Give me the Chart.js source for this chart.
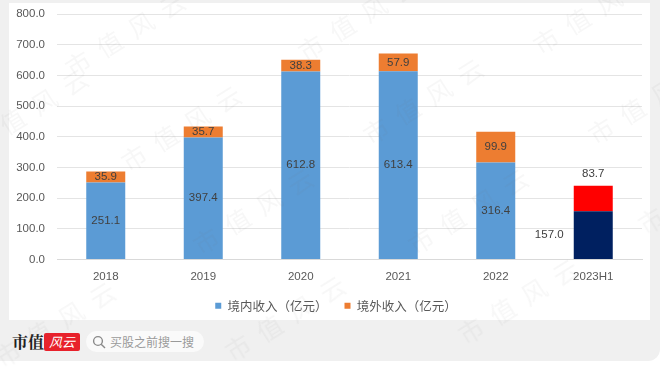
<!DOCTYPE html>
<html><head><meta charset="utf-8">
<style>
html,body{margin:0;padding:0;background:#fff;width:660px;height:368px;overflow:hidden;font-family:"Noto Sans CJK SC",sans-serif}
#bg{position:absolute;left:0;top:0;width:660px;height:361px;background:#f0f0f0;border-bottom-right-radius:12px}
#panel{position:absolute;left:9px;top:3px;width:641px;height:317px;background:#fff}
#cv{position:absolute;left:0;top:0}
#logo{position:absolute;left:12px;top:331px;font:bold 16px/22px "Noto Serif CJK SC","Noto Sans CJK SC",serif;color:#222}
#mark{position:absolute;left:44px;top:333px;width:36px;height:18px;background:#e8212b;color:#fff;font:italic 13px/18px "Noto Sans CJK SC";text-align:center;border-radius:2px}
#search{position:absolute;left:86px;top:331px;width:118px;height:21px;border-radius:11px;background:#fafafa;color:#9a9a9a;font:12px/21px "Noto Sans CJK SC"}
#search svg{position:absolute;left:6px;top:4px}
#search span{position:absolute;left:24px;top:0;white-space:nowrap}
.wm{position:absolute;color:rgba(120,120,120,.06);font:25px/30px "Noto Sans CJK SC";letter-spacing:12px;white-space:nowrap;transform:rotate(-32deg);transform-origin:12px 50%;pointer-events:none}
</style></head><body>
<div id="bg"></div><div id="panel"></div>
<canvas id="cv" width="660" height="322"></canvas>
<div id="logo">市值</div><div id="mark">风云</div>
<div id="search"><svg width="14" height="14" viewBox="0 0 14 14"><circle cx="6" cy="6" r="4.4" fill="none" stroke="#8a8a8a" stroke-width="1.4"/><line x1="9.2" y1="9.2" x2="13" y2="13" stroke="#8a8a8a" stroke-width="1.4"/></svg><span>买股之前搜一搜</span></div>
<div id="wms"></div>
<script src="https://cdn.jsdelivr.net/npm/chart.js@4"></script>
<script>
const categories=["2018","2019","2020","2021","2022","2023H1"];
const domestic=[251.1,397.4,612.8,613.4,316.4,157.0];
const overseas=[35.9,35.7,38.3,57.9,99.9,83.7];
const domesticColors=["#5b9bd5","#5b9bd5","#5b9bd5","#5b9bd5","#5b9bd5","#002060"];
const overseasColors=["#ed7d31","#ed7d31","#ed7d31","#ed7d31","#ed7d31","#ff0000"];
const watermarks=[[77,63],[133,157],[310,47],[205,240],[375,130],[420,240],[545,40],[600,130],[470,330],[237,347],[7,353],[650,220],[-20,140]];

const wrap=document.getElementById('wms');
watermarks.forEach(p=>{const d=document.createElement('div');d.className='wm';d.textContent='市值风云';d.style.left=(p[0]-12)+'px';d.style.top=(p[1]-15)+'px';wrap.appendChild(d);});

const labelFont='11.5px "Liberation Sans","Open Sans",sans-serif';
const labelPlugin={id:'labels',
 afterLayout(c){c.legend.left+=15;c.legend.right+=15;},
 afterDatasetsDraw(c){
  const g=c.ctx;g.save();g.font=labelFont;g.fillStyle='#404040';g.textAlign='center';g.textBaseline='middle';
  const a=c.getDatasetMeta(0).data,b=c.getDatasetMeta(1).data;
  const last=categories.length-1;
  categories.forEach((_,i)=>{
    if(i===last){
      g.fillText(domestic[i].toFixed(1),a[i].x-44,(a[i].y+a[i].base)/2);
      g.fillText(overseas[i].toFixed(1),b[i].x,b[i].y-12);
    }else{
      g.fillText(domestic[i].toFixed(1),a[i].x,(a[i].y+a[i].base)/2);
      g.fillText(overseas[i].toFixed(1),b[i].x,(b[i].y+b[i].base)/2);
    }
  });
  g.restore();
}};

new Chart(document.getElementById('cv'),{
  type:'bar',
  data:{labels:categories,datasets:[
    {label:'境内收入（亿元）',data:domestic,backgroundColor:domesticColors,categoryPercentage:1,barPercentage:0.4},
    {label:'境外收入（亿元）',data:overseas,backgroundColor:overseasColors,categoryPercentage:1,barPercentage:0.4}
  ]},
  options:{responsive:false,animation:false,
    layout:{padding:{top:14,right:18,left:0,bottom:0}},
    scales:{
      x:{stacked:true,grid:{display:false},border:{color:'#d9d9d9'},
         ticks:{color:'#595959',font:{size:11.5,family:'"Liberation Sans","Open Sans",sans-serif'},padding:2,maxRotation:0},
         afterFit(s){s.height=23;}},
      y:{stacked:true,min:0,max:800,
         grid:{color:'#e4e4e4',drawTicks:true,tickLength:8,tickColor:'transparent'},border:{display:false},
         ticks:{stepSize:100,color:'#595959',padding:4,font:{size:11.5,family:'"Liberation Sans","Open Sans",sans-serif'},callback:v=>v.toFixed(1)},
         afterFit(s){s.width=57;}}
    },
    plugins:{tooltip:{enabled:false},
      legend:{position:'bottom',
        labels:{color:'#595959',boxWidth:6,boxHeight:6,padding:17,font:{size:12.5,family:'"Noto Sans CJK SC"'},
          generateLabels(c){return c.data.datasets.map((d,i)=>({text:d.label,fillStyle:d.backgroundColor[0],strokeStyle:d.backgroundColor[0],lineWidth:0,fontColor:'#595959',datasetIndex:i}));}}}}
  },
  plugins:[labelPlugin]
});
</script></body></html>
